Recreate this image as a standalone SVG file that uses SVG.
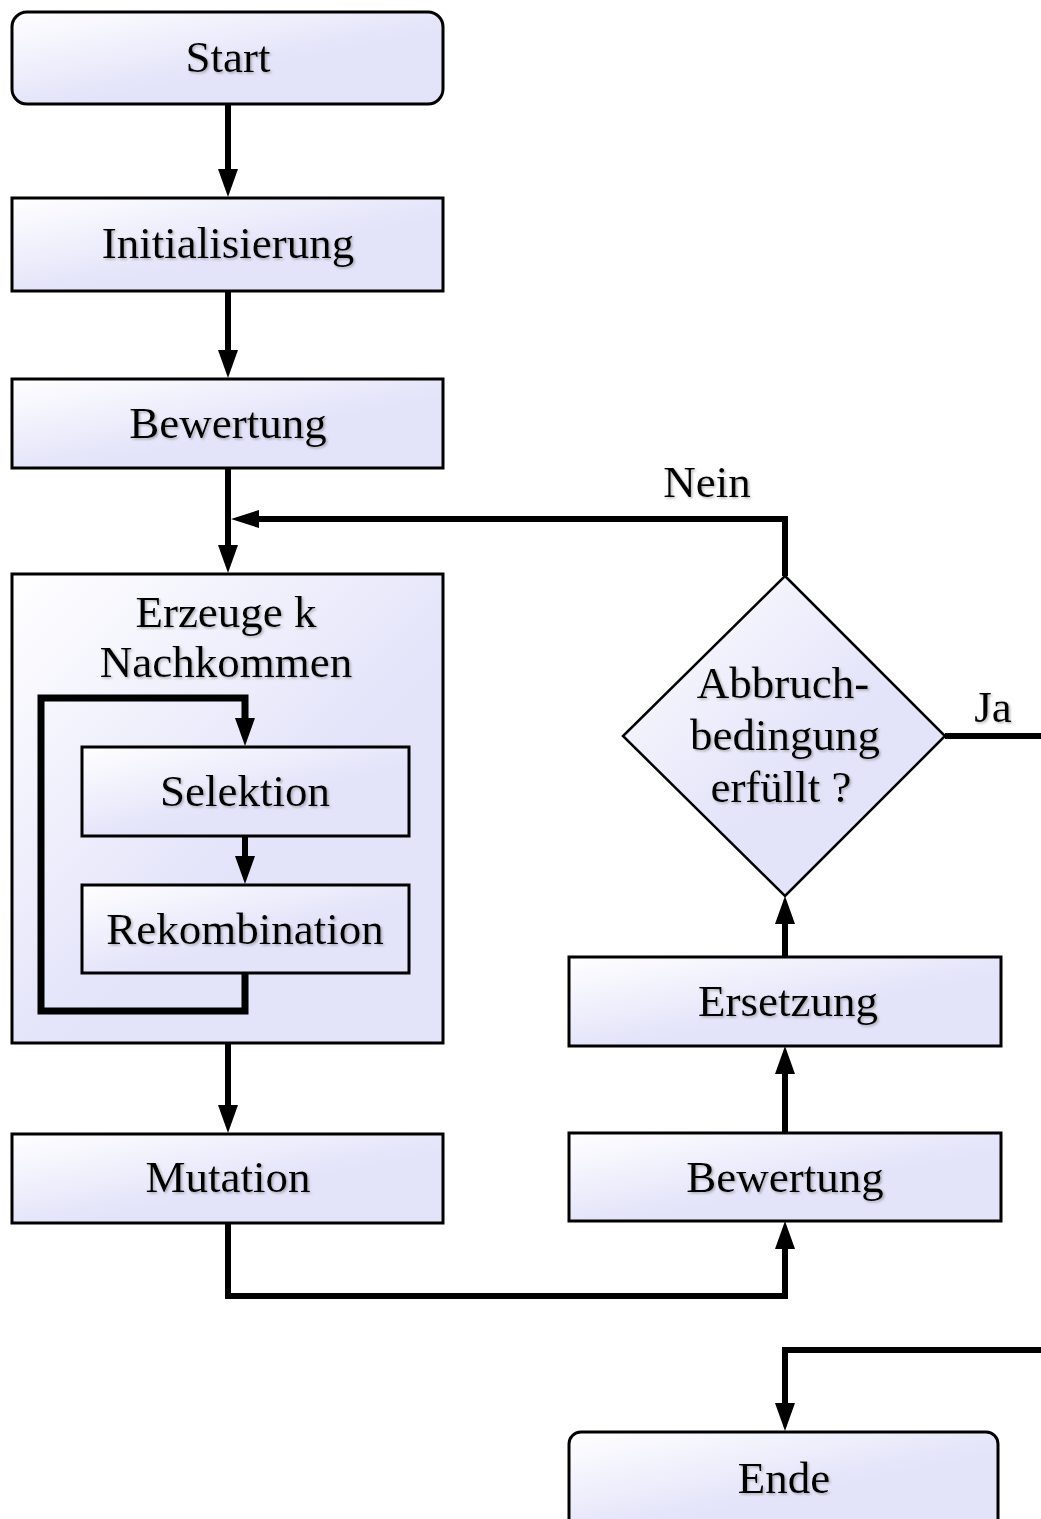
<svg xmlns="http://www.w3.org/2000/svg" width="1041" height="1519" viewBox="0 0 1041 1519">
<defs>
<linearGradient id="g" x1="0" y1="0" x2="0.55" y2="0.6">
<stop offset="0" stop-color="#ffffff"/>
<stop offset="1" stop-color="#e3e3fa"/>
</linearGradient>
<filter id="sh" x="-5%" y="-20%" width="110%" height="140%">
<feDropShadow dx="1.5" dy="1.5" stdDeviation="0.8" flood-color="#777" flood-opacity="0.55"/>
</filter>
<marker id="ar" viewBox="0 0 28 20" refX="14" refY="10" markerWidth="28" markerHeight="20" markerUnits="userSpaceOnUse" orient="auto">
<path d="M0,0 L28,10 L0,20 z" fill="#000"/>
</marker>
<marker id="ars" viewBox="0 0 28 18" refX="14" refY="9" markerWidth="28" markerHeight="18" markerUnits="userSpaceOnUse" orient="auto">
<path d="M0,0 L28,9 L0,18 z" fill="#000"/>
</marker>
</defs>
<style>
.box{fill:url(#g);stroke:#000;stroke-width:3}
.dia{fill:url(#g);stroke:#000;stroke-width:2.5}
.t{font-family:"Liberation Serif","Times New Roman",serif;font-size:45px;fill:#000;text-anchor:middle;filter:url(#sh)}
.c{fill:none;stroke:#000;stroke-width:6}
.ci{fill:none;stroke:#000;stroke-width:7}
</style>
<rect x="0" y="0" width="1041" height="1519" fill="#fff"/>

<g id="start"><rect class="box" x="12" y="12" width="431" height="92" rx="15"/><text class="t" x="228" y="72">Start</text></g>
<g id="init"><rect class="box" x="12" y="198" width="431" height="93"/><text class="t" x="228" y="258">Initialisierung</text></g>
<g id="bewertung1"><rect class="box" x="12" y="379" width="431" height="89"/><text class="t" x="228" y="438">Bewertung</text></g>
<g id="erzeuge"><rect class="box" x="12" y="574" width="431" height="469" stroke-width="2.5"/><text class="t" x="226" y="627">Erzeuge k</text><text class="t" x="226" y="677">Nachkommen</text></g>
<g id="selektion"><rect class="box" x="82" y="747" width="327" height="89" stroke-width="2.5"/><text class="t" x="245" y="806">Selektion</text></g>
<g id="rekombination"><rect class="box" x="82" y="885" width="327" height="88" stroke-width="2.5"/><text class="t" x="245" y="944">Rekombination</text></g>
<g id="mutation"><rect class="box" x="12" y="1134" width="431" height="89" stroke-width="2.5"/><text class="t" x="228" y="1192">Mutation</text></g>
<g id="bewertung2"><rect class="box" x="569" y="1133" width="432" height="88" stroke-width="2.5"/><text class="t" x="785" y="1192">Bewertung</text></g>
<g id="ersetzung"><rect class="box" x="569" y="957" width="432" height="89" stroke-width="2.5"/><text class="t" x="788" y="1016">Ersetzung</text></g>
<g id="abbruch"><polygon class="dia" points="785,576 945,736 785,896 623,736"/><text class="t" x="783" y="698">Abbruch-</text><text class="t" x="785" y="750">bedingung</text><text class="t" x="781" y="802">erfüllt ?</text></g>
<g id="ende"><rect class="box" x="569" y="1432" width="429" height="100" rx="12"/><text class="t" x="784" y="1493">Ende</text></g>

<g id="connectors">
<path class="c" d="M228,104 V183" marker-end="url(#ar)"/>
<path class="c" d="M228,291 V364" marker-end="url(#ar)"/>
<path class="c" d="M228,468 V559" marker-end="url(#ar)"/>
<path class="c" d="M785,576 V519 H245" marker-end="url(#ars)"/>
<path class="c" d="M228,1043 V1119" marker-end="url(#ar)"/>
<path class="c" d="M228,1223 V1296 H785 V1235" marker-end="url(#ar)"/>
<path class="c" d="M785,1133 V1060" marker-end="url(#ar)"/>
<path class="c" d="M785,957 V910" marker-end="url(#ar)"/>
<path class="c" d="M945,736 H1041"/>
<path class="c" d="M1041,1350 H785 V1417" marker-end="url(#ar)"/>
<path class="ci" d="M245,973 V1011 H41 V698 H245 V732" marker-end="url(#ar)"/>
<path class="c" d="M245,836 V870" marker-end="url(#ar)"/>
<text class="t" x="707" y="497">Nein</text>
<text class="t" x="993" y="722">Ja</text>
</g>
</svg>
